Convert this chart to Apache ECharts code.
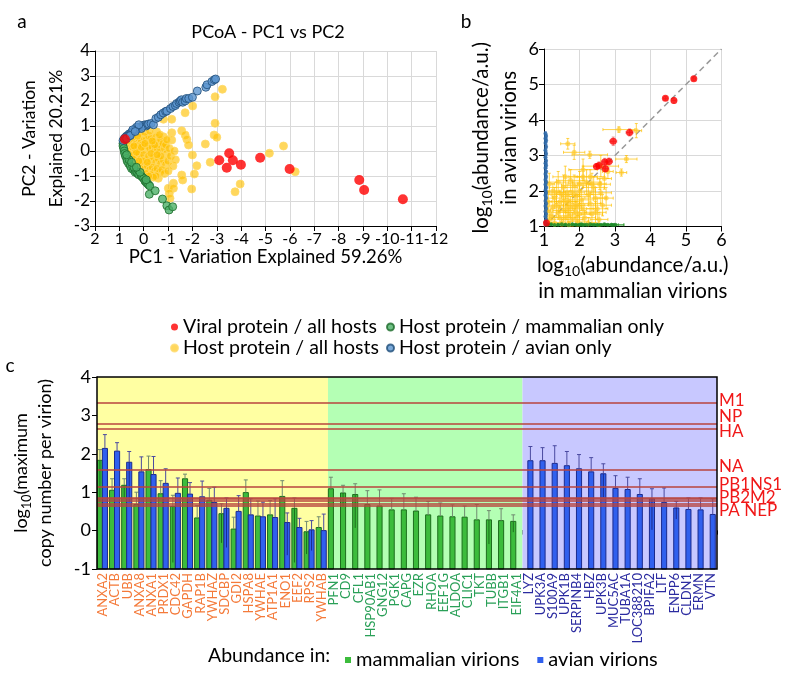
<!DOCTYPE html>
<html><head><meta charset="utf-8">
<script src="https://cdn.jsdelivr.net/npm/echarts/dist/echarts.min.js"></script>
<style>html,body{margin:0;padding:0;background:#fff}#c{width:800px;height:681px}</style>
</head><body><div id="c"></div><script>
// ---------- Panel a: PCoA (PC1, PC2) ----------
const pcoaViral = [[0.77,0.47],[-3.1,-0.37],[-3.51,-0.09],[-3.66,-0.37],[-3.41,-0.67],[-3.99,-0.55],[-4.78,-0.27],[-5.99,-0.72],[-8.85,-1.16],[-9.05,-1.56],[-10.64,-1.93]];
const pcoaHostAll = [[-3.23,2.47],[-2.93,2.17],[-2.01,1.8],[-1.7,1.53],[-1.15,1.27],[-0.81,1.27],[-2.93,1.11],[-2.89,0.64],[-3.0,0.55],[-1.56,0.81],[-1.7,0.64],[-1.77,0.47],[-1.84,0.24],[-2.53,0.28],[-5.74,0.2],[-5.16,-0.09],[-6.22,-0.83],[-2.73,-0.45],[-2.18,-0.59],[-2.08,-0.92],[-1.56,-0.96],[-1.6,-1.16],[-1.22,-1.29],[-1.01,-1.49],[-1.22,-1.49],[-1.97,-1.52],[-1.05,-1.69],[-1.08,-1.89],[-3.96,-1.32],[-3.75,-1.63],[-1.15,0.73],[-1.15,0.44],[-0.81,0.57],[-0.53,0.77],[-2.0,-0.16],[-0.6,-1.09],
[0.6,0.4],[0.5,0.3],[0.4,0.45],[0.3,0.35],[0.2,0.5],[0.1,0.4],[0.0,0.55],[-0.1,0.45],[-0.2,0.6],[-0.3,0.5],[-0.4,0.35],[-0.5,0.55],[-0.6,0.3],[-0.7,0.45],[-0.75,0.2],
[0.65,0.1],[0.55,0.0],[0.45,0.15],[0.35,0.05],[0.25,0.2],[0.15,0.1],[0.05,0.25],[-0.05,0.05],[-0.15,0.2],[-0.25,0.1],[-0.35,0.15],[-0.45,0.0],[-0.55,0.1],[-0.65,-0.05],[-0.85,0.1],[-0.95,-0.1],
[0.6,-0.2],[0.5,-0.3],[0.4,-0.15],[0.3,-0.25],[0.2,-0.1],[0.1,-0.3],[0.0,-0.15],[-0.1,-0.35],[-0.2,-0.2],[-0.3,-0.4],[-0.4,-0.25],[-0.5,-0.45],[-0.6,-0.3],[-0.7,-0.5],[-0.8,-0.35],[-0.9,-0.55],[-1.0,-0.4],
[0.45,-0.55],[0.35,-0.6],[0.25,-0.5],[0.15,-0.65],[0.05,-0.55],[-0.05,-0.7],[-0.15,-0.6],[-0.25,-0.75],[-0.35,-0.65],[-0.45,-0.8],[-0.55,-0.7],[-0.65,-0.85],[-0.75,-0.75],[-0.85,-0.9],[-1.0,-0.8],
[0.1,-0.85],[-0.1,-0.9],[-0.3,-0.95],[-0.5,-1.0],[-0.4,-1.05],[-0.2,-1.0],
[0.55,0.6],[0.35,0.65],[0.15,0.7],[-0.05,0.75],[-0.25,0.8],[0.45,0.55],[0.25,0.6],
[0.3,-0.05],[0.1,0.15],[-0.3,-0.1],[-0.45,0.25],[-0.8,0.3],[-0.9,0.25],[-1.05,0.1],[-1.1,-0.2],[-1.2,-0.6],[-1.25,0.0],[-0.95,0.45],[-1.3,-0.35],[-0.65,0.65],
[0.05,-0.4],[-0.05,0.3],[0.2,-0.4],[0.4,0.2],[-0.15,-0.45],[-0.35,0.4],[-0.7,-0.2],[-0.55,-0.15]];
const pcoaMammal = [[0.85,0.3],[0.85,0.2],[0.82,0.1],[0.8,0.0],[0.78,-0.1],[0.75,-0.2],[0.7,-0.3],[0.68,-0.4],[0.62,-0.5],[0.55,-0.6],[0.5,-0.7],[0.42,-0.75],[0.35,-0.85],[0.3,-0.82],[0.25,-0.9],[0.2,-0.95],[0.1,-1.0],[0.05,-1.05],[0.0,-1.1],[-0.05,-1.2],[-0.1,-1.25],[-0.15,-1.3],[-0.2,-1.35],[-0.25,-1.4],[-0.1,-1.15],[0.15,-0.85],[0.4,-0.65],[0.6,-0.35],[0.7,-0.15],[0.5,-0.45],[0.3,-0.65],
[-0.23,-1.73],[-0.47,-1.59],[-0.77,-1.92],[-0.95,-2.19],[-1.04,-2.36],[-1.19,-2.23]];
const pcoaAvian = [[0.85,0.42],[0.8,0.5],[0.75,0.55],[0.7,0.6],[0.65,0.62],[0.6,0.68],[0.55,0.7],[0.5,0.75],[0.45,0.78],[0.4,0.82],[0.35,0.85],[0.3,0.87],[0.25,0.9],[0.2,0.93],[0.15,0.95],[0.1,0.98],[0.05,1.0],[0.0,1.02],[-0.05,1.05],[-0.1,1.0],[-0.15,1.05],[0.1,0.9],[0.3,0.95],[0.45,0.85],[0.2,1.05],[-0.2,1.08],[-0.3,1.1],[-0.4,1.05],[-0.5,1.3],[-0.6,1.35],[-0.7,1.45],[-0.8,1.52],[-0.9,1.58],[-0.95,1.6],[-1.1,1.7],[-1.2,1.78],[-1.3,1.82],[-1.35,1.9],[-1.45,1.95],[-1.5,2.0],[-1.55,2.05],[-1.6,1.95],[-1.7,2.0],[-1.75,2.1],[-1.85,2.1],[-2.0,2.15],[-2.2,2.4],[-2.55,2.55],[-2.6,2.65],[-2.8,2.78],[-2.9,2.85],[-2.95,2.88],[0.6,0.6],[0.7,0.5],[0.55,0.62],[0.35,0.78]];

// ---------- Panel b: log10 abundance [mammalian, avian, errMammal, errAvian] ----------
const abViral = [[5.22,5.16,0.05,0.05],[4.42,4.61,0.05,0.05],[4.66,4.55,0.06,0.08],[3.41,3.65,0.1,0.1],[2.95,3.4,0.1,0.12],[2.83,2.83,0.1,0.1],[2.71,2.82,0.1,0.1],[2.73,2.63,0.1,0.1],[2.55,2.72,0.1,0.1],[2.48,2.69,0.08,0.08],[1.07,1.1,0.05,0.05]];
const abHostAll = [[3.11,3.73,0.45,0.08],[3.6,3.7,0.15,0.2],[1.67,3.33,0.2,0.15],[1.85,3.09,0.3,0.2],[2.29,3.02,0.5,0.1],[3.32,2.9,0.3,0.1],[3.18,2.52,0.15,0.1],[2.57,2.19,0.3,0.15],[2.6,2.7,0.5,0.3],[2.3,2.4,0.4,0.2],[2.1,2.6,0.4,0.3],
[1.15,2.2,0.15,0.3],[1.25,2.0,0.2,0.2],[1.3,1.8,0.3,0.3],[1.35,1.6,0.2,0.25],[1.4,1.4,0.25,0.2],[1.45,1.25,0.3,0.2],[1.5,1.9,0.3,0.3],[1.55,2.1,0.4,0.35],[1.6,1.7,0.3,0.3],[1.65,1.5,0.25,0.3],[1.7,1.3,0.3,0.2],[1.75,2.3,0.4,0.3],[1.8,1.95,0.35,0.3],[1.85,1.6,0.3,0.25],[1.9,1.4,0.3,0.3],[1.95,1.15,0.3,0.15],[2.0,2.0,0.45,0.4],[2.05,1.75,0.35,0.3],[2.1,1.5,0.3,0.3],[2.15,1.25,0.3,0.2],[2.2,2.25,0.4,0.35],[2.25,1.9,0.35,0.3],[2.3,1.65,0.3,0.3],[2.35,1.35,0.3,0.25],[2.4,2.1,0.3,0.3],[2.45,1.8,0.3,0.3],[2.5,1.5,0.3,0.3],[2.55,1.2,0.25,0.2],[2.6,1.95,0.3,0.3],[2.65,1.6,0.25,0.3],[2.7,2.35,0.2,0.3],[1.2,1.3,0.15,0.2],[1.3,1.1,0.2,0.1],[1.5,1.1,0.25,0.1],[1.7,1.05,0.3,0.08],[1.9,1.85,0.4,0.3],[1.6,2.4,0.35,0.3],[1.4,2.25,0.3,0.3],[1.75,1.55,0.3,0.3],[1.85,2.15,0.35,0.3],[2.0,1.35,0.3,0.3],[1.55,1.45,0.3,0.3],[1.65,1.9,0.3,0.3],[1.45,1.7,0.3,0.3],[2.25,1.1,0.3,0.15],[1.8,1.2,0.3,0.2],[2.1,2.4,0.4,0.3],[1.35,1.95,0.25,0.3],[1.95,1.6,0.3,0.3],[2.45,1.4,0.3,0.3],[2.35,2.2,0.4,0.3],[1.6,1.25,0.3,0.2],[1.25,1.55,0.2,0.3],[1.12,1.7,0.1,0.3],[1.1,1.45,0.08,0.25],[1.15,1.2,0.1,0.15],[2.75,1.8,0.2,0.3],[2.8,2.55,0.15,0.2],[2.0,2.2,0.3,0.35],[1.7,1.7,0.3,0.3]];
const abMammal = [[1.1,1.05,0.05,0.02],[1.2,1.06,0.08,0.02],[1.3,1.04,0.1,0.02],[1.4,1.05,0.1,0.02],[1.5,1.06,0.12,0.02],[1.6,1.05,0.1,0.02],[1.7,1.04,0.15,0.02],[1.8,1.06,0.1,0.02],[1.9,1.05,0.12,0.02],[2.0,1.05,0.15,0.02],[2.05,1.06,0.1,0.02],[2.1,1.04,0.2,0.02],[2.2,1.05,0.15,0.02],[2.3,1.06,0.2,0.02],[2.4,1.05,0.15,0.02],[2.5,1.04,0.2,0.02],[2.6,1.05,0.15,0.02],[2.7,1.06,0.2,0.02],[2.8,1.05,0.25,0.02],[2.9,1.05,0.2,0.02],[2.95,1.04,0.3,0.02],[3.0,1.05,0.25,0.02]];
const abAvian = [[1.04,3.62,0.02,0.05],[1.06,3.55,0.02,0.05],[1.04,3.48,0.02,0.05],[1.06,3.42,0.02,0.05],[1.04,3.35,0.02,0.05],[1.06,3.25,0.02,0.06],[1.04,3.15,0.02,0.06],[1.06,3.05,0.02,0.06],[1.04,2.95,0.02,0.08],[1.06,2.85,0.02,0.08],[1.04,2.78,0.02,0.08],[1.06,2.72,0.02,0.08],[1.04,2.65,0.02,0.1],[1.06,2.55,0.02,0.1],[1.04,2.48,0.02,0.1],[1.06,2.4,0.02,0.1],[1.04,2.32,0.02,0.1],[1.06,2.25,0.02,0.1],[1.04,2.18,0.02,0.1],[1.06,2.1,0.02,0.1],[1.04,2.02,0.02,0.1],[1.06,1.95,0.02,0.1],[1.04,1.88,0.02,0.1],[1.06,1.8,0.02,0.1],[1.04,1.72,0.02,0.1],[1.06,1.65,0.02,0.1],[1.04,1.58,0.02,0.1],[1.06,1.5,0.02,0.1],[1.04,1.42,0.02,0.1],[1.06,1.35,0.02,0.1],[1.04,1.28,0.02,0.1],[1.06,1.2,0.02,0.08],[1.04,1.12,0.02,0.06],[1.06,1.06,0.02,0.04]];

// ---------- Panel c: log10 maximum copy number per virion ----------
const catsShared = ['ANXA2','ACTB','UBB','ANXA8','ANXA1','PRDX1','CDC42','GAPDH','RAP1B','YWHAZ','SDCBP','GDI2','HSPA8','YWHAE','ATP1A1','ENO1','EEF2','RPS2','YWHAB'];
const catsMammal = ['PFN1','CD9','CFL1','HSP90AB1','GNG12','PGK1','CAPG','EZR','RHOA','EEF1G','ALDOA','CLIC1','TKT','TUBB','ITGB1','EIF4A1'];
const catsAvian = ['LYZ','UPK3A','S100A9','UPK1B','SERPINB4','HBZ','UPK3B','MUC5AC','TUBA1A','LOC388210','BPIFA2','LTF','ENPP6','CLDN1','ERMN','VTN'];

const sharedMammal      = [1.83,1.05,1.18,0.68,1.59,0.96,0.63,1.35,0.33,0.79,0.44,0.04,0.99,0.38,0.41,0.89,0.58,-0.03,0.08];
const sharedMammalUpper = [2.11,1.35,1.35,1.0,1.94,1.3,0.92,1.47,0.65,1.1,0.70,0.35,1.32,0.77,0.78,1.3,0.85,0.24,0.36];
const sharedMammalLower = [0.74,null,0.85,null,null,null,-0.83,null,null,null,-0.32,null,null,null,null,null,-0.83,-0.61,null];
const sharedAvian       = [2.14,2.07,1.78,1.53,1.46,1.23,0.97,0.95,0.88,0.73,0.58,0.5,0.41,0.36,0.34,0.21,0.08,0.02,0.0];
const sharedAvianUpper  = [2.5,2.29,2.06,1.92,1.93,1.61,1.37,1.25,1.29,1.13,0.85,0.91,0.83,0.74,0.83,0.46,0.32,0.26,0.43];
const sharedAvianLower  = [null,null,0.74,null,null,null,null,null,null,null,-0.44,null,null,null,null,-0.64,null,-0.52,null];
const mammalOnly      = [1.09,0.98,0.94,0.68,0.64,0.54,0.54,0.51,0.41,0.38,0.36,0.35,0.28,0.28,0.26,0.24];
const mammalOnlyUpper = [1.39,1.18,1.22,1.04,1.06,0.84,0.96,0.87,0.76,0.72,0.67,0.64,0.68,0.52,0.57,0.41];
const mammalOnlyLower = [null,0.63,0.07,null,null,null,null,null,null,null,null,null,null,-0.35,null,-0.04];
const avianOnly      = [1.82,1.82,1.75,1.69,1.61,1.53,1.48,1.1,1.07,0.94,0.83,0.73,0.59,0.55,0.54,0.42];
const avianOnlyUpper = [2.19,2.16,2.21,2.06,1.98,1.9,1.74,1.43,1.39,1.35,1.09,1.11,0.76,0.85,0.85,0.83];
const avianOnlyLower = [null,null,null,null,null,null,0.87,null,null,null,0.02,null,0.3,null,null,null];

const viralProteins = ['M1','NP','HA','NA','PB1','NS1','PB2','M2','PA','NEP'];
const viralCopies   = [3.33,2.78,2.64,1.59,1.13,0.85,0.82,0.77,0.71,0.65];
const viralLabels = ['M1','NP','HA','NA','PB1NS1','PB2M2','PA NEP'];

// ---------- build ----------
const FONT = 'Lato';
const cats = catsShared.concat(catsMammal, catsAvian);
const nS = catsShared.length, nM = catsMammal.length, nA = catsAvian.length;
const nulls = n => Array(n).fill(null);
const mamV = sharedMammal.concat(mammalOnly, nulls(nA));
const mamU = sharedMammalUpper.concat(mammalOnlyUpper, nulls(nA));
const mamL = sharedMammalLower.concat(mammalOnlyLower, nulls(nA));
const avV = sharedAvian.concat(nulls(nM), avianOnly);
const avU = sharedAvianUpper.concat(nulls(nM), avianOnlyUpper);
const avL = sharedAvianLower.concat(nulls(nM), avianOnlyLower);
const labelColors = ['#f47a3a','#2aa058','#2b2ba0'];
const bgColors = ['#ffffa2','#b4ffb4','#c8c8ff'];
const regions = [[0,nS-1],[nS,nS+nM-1],[nS+nM,nS+nM+nA-1]];
const catData = cats.map((c,i)=>({value:c,textStyle:{color:labelColors[i<nS?0:(i<nS+nM?1:2)]}}));

function barRender(off, fill, edge, errColor){
  return function(params, api){
    const i = api.value(0), v = api.value(1);
    if (v === null || v === undefined || isNaN(v)) return null;
    const band = api.size([1,0])[0];
    const top = api.coord([i, v]);
    const base = api.coord([i, -1]);
    const x0 = top[0] - band/2 + band*off[0];
    const w = band*(off[1]-off[0]);
    const xm = x0 + w/2;
    const ch = [{type:'rect', shape:{x:x0, y:top[1], width:w, height:base[1]-top[1]}, style:{fill:fill, stroke:edge, lineWidth:1}}];
    const up = api.value(2), lo = api.value(3);
    const es = {stroke:errColor, lineWidth:1};
    if (!isNaN(up)) {
      const u = api.coord([i, up]);
      ch.push({type:'line', shape:{x1:xm,y1:top[1],x2:xm,y2:u[1]}, style:es});
      ch.push({type:'line', shape:{x1:xm-2,y1:u[1],x2:xm+2,y2:u[1]}, style:es});
    }
    if (lo !== null && !isNaN(lo)) {
      const l = api.coord([i, lo]);
      ch.push({type:'line', shape:{x1:xm,y1:top[1],x2:xm,y2:l[1]}, style:{stroke:edge,lineWidth:1}});
    }
    return {type:'group', children:ch};
  };
}
function errRender(color){
  return function(params, api){
    const x=api.value(0), y=api.value(1), ex=api.value(2), ey=api.value(3);
    const l=api.coord([x-ex,y]), r=api.coord([x+ex,y]);
    const t=api.coord([x,y+ey]), b=api.coord([x,y-ey]);
    const s={stroke:color,lineWidth:1};
    return {type:'group',children:[
      {type:'line',shape:{x1:l[0],y1:l[1],x2:r[0],y2:r[1]},style:s},
      {type:'line',shape:{x1:t[0],y1:t[1],x2:b[0],y2:b[1]},style:s},
      {type:'line',shape:{x1:l[0],y1:l[1]-1.5,x2:l[0],y2:l[1]+1.5},style:s},
      {type:'line',shape:{x1:r[0],y1:r[1]-1.5,x2:r[0],y2:r[1]+1.5},style:s},
      {type:'line',shape:{x1:t[0]-1.5,y1:t[1],x2:t[0]+1.5,y2:t[1]},style:s},
      {type:'line',shape:{x1:b[0]-1.5,y1:b[1],x2:b[0]+1.5,y2:b[1]},style:s}
    ]};
  };
}
const txt = (size) => ({fontSize:size, fontFamily:FONT, color:'#000'});
const subB = {fontSize:14, fontFamily:FONT, padding:[12,0,0,0], color:'#000'};
const subC = {fontSize:12.5, fontFamily:FONT, padding:[11,0,0,0], color:'#000'};

const styleViral = {color:'#ff0000'};
const styleHostAll = {color:'rgba(255,192,0,0.8)', borderColor:'#ffd966', borderWidth:1};
const styleMammal = {color:'#4cb068', borderColor:'#1d6b2a', borderWidth:1};
const styleAvian = {color:'#5b95d0', borderColor:'#1f4e79', borderWidth:1};

const option = {
  animation:false,
  textStyle:{fontFamily:FONT},
  grid:[
    {left:95, top:51, width:341, height:175},
    {left:544, top:49, width:177.5, height:177.5},
    {left:97, top:377, width:620, height:192}
  ],
  xAxis:[
    {gridIndex:0, type:'value', min:-12, max:2, interval:1, inverse:true,
     axisLine:{onZero:false, lineStyle:{color:'#000'}}, axisTick:{show:true, length:5, lineStyle:{color:'#000'}},
     axisLabel:Object.assign({margin:5, showMinLabel:true, showMaxLabel:true, hideOverlap:false}, txt(16)), splitLine:{lineStyle:{color:'#d9d9d9'}},
     name:'PC1 - Variation Explained 59.26%', nameLocation:'middle', nameGap:21, nameTextStyle:txt(18.5)},
    {gridIndex:1, type:'value', min:1, max:6, interval:1,
     axisLine:{onZero:false, lineStyle:{color:'#000'}}, axisTick:{show:true, length:5, lineStyle:{color:'#000'}},
     axisLabel:Object.assign({margin:5}, txt(18)), splitLine:{lineStyle:{color:'#d9d9d9'}},
     name:'{a|log}{s|10}{a|(abundance/a.u.)}\n{a|in mammalian virions}', nameLocation:'middle', nameGap:26,
     nameTextStyle:{lineHeight:26, rich:{a:txt(20.5), s:subB}}},
    {gridIndex:2, type:'category', data:catData, boundaryGap:true,
     axisLine:{lineStyle:{color:'#000'}}, axisTick:{show:true, length:4, lineStyle:{color:'#000'}},
     axisLabel:{interval:0, rotate:90, fontSize:13, fontFamily:FONT, margin:4}}
  ],
  yAxis:[
    {gridIndex:0, type:'value', min:-3, max:4, interval:1,
     axisLine:{show:true, onZero:false, lineStyle:{color:'#000'}}, axisTick:{show:true, length:5, lineStyle:{color:'#000'}},
     axisLabel:Object.assign({margin:5}, txt(17)), splitLine:{lineStyle:{color:'#d9d9d9'}},
     name:'PC2 - Variation\nExplained 20.21%', nameLocation:'middle', nameGap:24, nameTextStyle:Object.assign({lineHeight:27}, txt(17.5))},
    {gridIndex:1, type:'value', min:1, max:6, interval:1,
     axisLine:{show:true, onZero:false, lineStyle:{color:'#000'}}, axisTick:{show:true, length:5, lineStyle:{color:'#000'}},
     axisLabel:Object.assign({margin:5}, txt(18)), splitLine:{lineStyle:{color:'#d9d9d9'}},
     name:'{a|log}{s|10}{a|(abundance/a.u.)}\n{a|in avian virions}', nameLocation:'middle', nameGap:21,
     nameTextStyle:{lineHeight:28, rich:{a:txt(20.5), s:subB}}},
    {gridIndex:2, type:'value', min:-1, max:4, interval:1,
     axisLine:{show:true, onZero:false, lineStyle:{color:'#000'}}, axisTick:{show:true, length:5, lineStyle:{color:'#000'}},
     axisLabel:Object.assign({margin:6}, txt(18)), splitLine:{show:false},
     name:'{a|log}{s|10}{a|(maximum}\n{a|copy number per virion)}', nameLocation:'middle', nameGap:40,
     nameTextStyle:{lineHeight:24, rich:{a:txt(18), s:subC}}}
  ],
  legend:[
    {orient:'vertical', left:165, top:312, itemGap:1, itemWidth:7, itemHeight:7, selectedMode:false,
     textStyle:{fontSize:19.5, fontFamily:FONT, color:'#000', lineHeight:20},
     data:[{name:'Viral protein / all hosts', icon:'circle'},{name:'Host protein / all hosts', icon:'circle'}]},
    {orient:'vertical', left:381, top:312, itemGap:1, itemWidth:7, itemHeight:7, selectedMode:false,
     textStyle:{fontSize:19.5, fontFamily:FONT, color:'#000', lineHeight:20},
     data:[{name:'Host protein / mammalian only', icon:'circle'},{name:'Host protein / avian only', icon:'circle'}]},
    {orient:'horizontal', left:340, top:645, itemGap:18, itemWidth:6, itemHeight:6, selectedMode:false,
     textStyle:{fontSize:20, fontFamily:FONT, color:'#000'},
     data:[{name:'mammalian virions', icon:'rect'},{name:'avian virions', icon:'rect'}]}
  ],
  graphic:[
    {type:'text', x:22, y:22, style:{text:'a', fontSize:19, fontFamily:FONT, fill:'#000', align:'center', verticalAlign:'middle'}},
    {type:'text', x:466, y:22, style:{text:'b', fontSize:19, fontFamily:FONT, fill:'#000', align:'center', verticalAlign:'middle'}},
    {type:'text', x:10, y:366, style:{text:'c', fontSize:19, fontFamily:FONT, fill:'#000', align:'center', verticalAlign:'middle'}},
    {type:'text', x:268, y:32, style:{text:'PCoA - PC1 vs PC2', fontSize:18, fontFamily:FONT, fill:'#000', align:'center', verticalAlign:'middle'}},
    {type:'text', x:208, y:656, style:{text:'Abundance in:', fontSize:19.5, fontFamily:FONT, fill:'#000', align:'left', verticalAlign:'middle'}},
    {type:'text', x:719, y:401, style:{text:viralLabels[0], fontSize:17, fontFamily:FONT, fill:'#f01818', verticalAlign:'middle'}},
    {type:'text', x:719, y:417, style:{text:viralLabels[1], fontSize:17, fontFamily:FONT, fill:'#f01818', verticalAlign:'middle'}},
    {type:'text', x:719, y:432, style:{text:viralLabels[2], fontSize:17, fontFamily:FONT, fill:'#f01818', verticalAlign:'middle'}},
    {type:'text', x:719, y:467, style:{text:viralLabels[3], fontSize:17, fontFamily:FONT, fill:'#f01818', verticalAlign:'middle'}},
    {type:'text', x:719, y:485, style:{text:viralLabels[4], fontSize:17, fontFamily:FONT, fill:'#f01818', verticalAlign:'middle'}},
    {type:'text', x:719, y:498, style:{text:viralLabels[5], fontSize:17, fontFamily:FONT, fill:'#f01818', verticalAlign:'middle'}},
    {type:'text', x:719, y:511, style:{text:viralLabels[6], fontSize:17, fontFamily:FONT, fill:'#f01818', verticalAlign:'middle'}}
  ],
  series:[
    // panel a
    {type:'scatter', name:'Host protein / all hosts', xAxisIndex:0, yAxisIndex:0, data:pcoaHostAll, symbolSize:8, itemStyle:styleHostAll},
    {type:'scatter', name:'Host protein / mammalian only', xAxisIndex:0, yAxisIndex:0, data:pcoaMammal, symbolSize:8, itemStyle:styleMammal},
    {type:'scatter', name:'Host protein / avian only', xAxisIndex:0, yAxisIndex:0, data:pcoaAvian, symbolSize:8, itemStyle:styleAvian},
    {type:'scatter', name:'Viral protein / all hosts', xAxisIndex:0, yAxisIndex:0, data:pcoaViral, symbolSize:10, itemStyle:styleViral, z:5},
    // panel b
    {type:'line', xAxisIndex:1, yAxisIndex:1, data:[[1,1],[6,6]], symbol:'none', lineStyle:{color:'#999', width:1.5, type:[6,4]}, z:1, silent:true},
    {type:'custom', xAxisIndex:1, yAxisIndex:1, data:abHostAll, renderItem:errRender('rgba(255,192,0,0.7)'), clip:true, z:2, silent:true},
    {type:'custom', xAxisIndex:1, yAxisIndex:1, data:abMammal, renderItem:errRender('rgba(40,150,40,0.7)'), clip:true, z:2, silent:true},
    {type:'custom', xAxisIndex:1, yAxisIndex:1, data:abAvian, renderItem:errRender('rgba(70,120,190,0.7)'), clip:true, z:2, silent:true},
    {type:'custom', xAxisIndex:1, yAxisIndex:1, data:abViral, renderItem:errRender('rgba(230,120,120,0.8)'), clip:true, z:2, silent:true},
    {type:'scatter', name:'Host protein / all hosts', xAxisIndex:1, yAxisIndex:1, data:abHostAll, symbolSize:5, itemStyle:{color:'rgba(255,200,40,0.8)'}, z:3},
    {type:'scatter', name:'Host protein / mammalian only', xAxisIndex:1, yAxisIndex:1, data:abMammal, symbolSize:4, itemStyle:{color:'#1e8a2a'}, z:3},
    {type:'scatter', name:'Host protein / avian only', xAxisIndex:1, yAxisIndex:1, data:abAvian, symbolSize:4, itemStyle:{color:'#2e6aa8'}, z:3},
    {type:'scatter', name:'Viral protein / all hosts', xAxisIndex:1, yAxisIndex:1, data:abViral, symbolSize:7, itemStyle:styleViral, z:4},
    // panel c
    {type:'custom', xAxisIndex:2, yAxisIndex:2, silent:true, z:1,
     data:regions.map(r=>[r[0], r[1]]),
     renderItem:function(params, api){
       const band = api.size([1,0])[0];
       const x0 = api.coord([api.value(0),0])[0]-band/2;
       const x1 = api.coord([api.value(1),0])[0]+band/2;
       const cs = params.coordSys;
       return {type:'rect', shape:{x:x0, y:cs.y, width:x1-x0, height:cs.height}, style:{fill:bgColors[params.dataIndex]}};
     },
     markLine:{silent:true, symbol:['none','none'], label:{show:false},
       lineStyle:{color:'#b8453e', width:1.5, type:'solid'},
       data:viralCopies.map((v,k)=>({name:viralProteins[k], yAxis:v}))}
    },
    {type:'custom', name:'mammalian virions', xAxisIndex:2, yAxisIndex:2, z:3, itemStyle:{color:'#3cbc3c'},
     data:cats.map((c,i)=>[i, mamV[i], mamU[i], mamL[i]]),
     renderItem:barRender([0.03,0.45], '#3cbc3c', '#1c6e1c', '#708a70')},
    {type:'custom', name:'avian virions', xAxisIndex:2, yAxisIndex:2, z:3, itemStyle:{color:'#3060ee'},
     data:cats.map((c,i)=>[i, avV[i], avU[i], avL[i]]),
     renderItem:barRender([0.44,0.86], '#3060ee', '#1a2a8e', '#4a4aa0')},
    {type:'custom', xAxisIndex:2, yAxisIndex:2, z:6, silent:true, data:[[0]],
     renderItem:function(params, api){
       const cs = params.coordSys;
       return {type:'rect', shape:{x:cs.x, y:cs.y, width:cs.width, height:cs.height}, style:{fill:'none', stroke:'#000', lineWidth:1.5}};
     }}
  ]
};
const chart = echarts.init(document.getElementById('c'), null, {renderer:'canvas'});
chart.setOption(option);
</script></body></html>
